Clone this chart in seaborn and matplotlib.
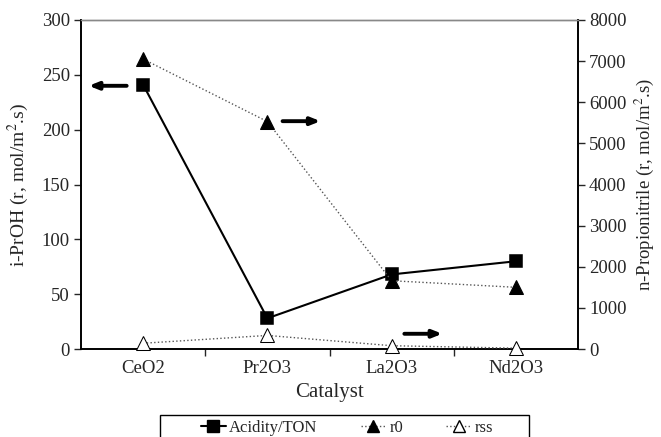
import matplotlib
matplotlib.use("Agg")
import matplotlib.pyplot as plt
import seaborn as sns
import pandas as pd
from matplotlib.lines import Line2D
from matplotlib.patches import Rectangle

catalysts = ["CeO2", "Pr2O3", "La2O3", "Nd2O3"]
acidity_ton = [241, 28, 68, 80]
r0 = [7050, 5530, 1660, 1500]
rss = [140, 330, 80, 20]
left_ticks = [0, 50, 100, 150, 200, 250, 300]
right_ticks = [0, 1000, 2000, 3000, 4000, 5000, 6000, 7000, 8000]

df = pd.DataFrame({"Catalyst": catalysts, "Acidity/TON": acidity_ton, "r0": r0, "rss": rss})

sns.set_theme(style="white")
plt.rcParams["font.family"] = ["Liberation Serif", "DejaVu Serif"]
plt.rcParams["mathtext.fontset"] = "stix"

W, H = 661, 437
fig = plt.figure(figsize=(W / 100, H / 100), dpi=100)
ax = fig.add_axes([81 / W, 1 - 349 / H, (578 - 81) / W, (349 - 20) / H])
ax2 = ax.twinx()

sns.pointplot(data=df, x="Catalyst", y="Acidity/TON", ax=ax, color="black",
              markers="s", linestyles="-", errorbar=None,
              markersize=9, linewidth=1.5, zorder=5)
sns.pointplot(data=df, x="Catalyst", y="r0", ax=ax2, color="black",
              markers="^", linestyles=":", errorbar=None,
              markersize=10, linewidth=1.0, zorder=4)
sns.pointplot(data=df, x="Catalyst", y="rss", ax=ax2, color="black",
              markers="^", linestyles=":", errorbar=None,
              markersize=10, linewidth=1.0, zorder=4)

for ln in ax2.lines:
    ln.set_color("#555555")
    ln.set_markeredgecolor("black")
    ln.set_clip_on(False)
ax2.lines[0].set_markerfacecolor("black")
ax2.lines[1].set_markerfacecolor("white")
for ln in ax.lines:
    ln.set_clip_on(False)

ax.set_xlim(-0.5, 3.5)
ax2.set_xlim(-0.5, 3.5)
ax.set_ylim(0, 300)
ax2.set_ylim(0, 8000)
ax.set_yticks(left_ticks)
ax2.set_yticks(right_ticks)
ax.set_xticks(range(len(catalysts)))
ax.set_xticklabels(catalysts)
ax.set_xticks([0.5, 1.5, 2.5], minor=True)
ax.tick_params(axis="x", which="major", length=0, labelsize=13.5, pad=8)
ax.tick_params(axis="x", which="minor", length=5, width=1, direction="out", bottom=True)
ax.tick_params(axis="y", length=5, width=1, direction="out", labelsize=13.5, left=True, pad=3)
ax2.tick_params(axis="y", length=5, width=1, direction="out", labelsize=13.5, right=True, pad=3)

ax.set_xlabel("Catalyst", fontsize=15, labelpad=4)
ax.set_ylabel("i-PrOH (r, mol/m$^2$.s)", fontsize=14, labelpad=8)
ax2.set_ylabel("n-Propionitrile (r, mol/m$^2$.s)", fontsize=13.5, labelpad=4)

for a in (ax, ax2):
    for s in ["left", "right", "bottom"]:
        a.spines[s].set_color("black")
        a.spines[s].set_linewidth(1.2)
    a.spines["top"].set_color("#888888")
    a.spines["top"].set_linewidth(1.0)
    a.grid(False)

arrow_kw = dict(arrowstyle="-|>,head_length=0.45,head_width=0.18", color="black", lw=2.8)
ax.annotate("", xy=(-0.46, 240), xytext=(-0.11, 240), arrowprops=arrow_kw)
ax.annotate("", xy=(1.45, 5540 * 300 / 8000), xytext=(1.1, 5540 * 300 / 8000), arrowprops=arrow_kw)
ax.annotate("", xy=(2.43, 370 * 300 / 8000), xytext=(2.08, 370 * 300 / 8000), arrowprops=arrow_kw)

handles = [
    Line2D([], [], color="black", lw=1.5, marker="s", markersize=8),
    Line2D([], [], color="#555555", lw=1.0, ls=":", marker="^", markersize=8,
           markerfacecolor="black", markeredgecolor="black"),
    Line2D([], [], color="#555555", lw=1.0, ls=":", marker="^", markersize=8,
           markerfacecolor="white", markeredgecolor="black"),
]
top = 1 - 415 / H
leg = fig.legend(handles, ["Acidity/TON", "r0", "rss"], ncol=3,
                 loc="upper center", bbox_to_anchor=(347 / W, top),
                 frameon=False, fontsize=12,
                 handlelength=1.5, handletextpad=0.2, borderpad=0.3, columnspacing=2.6,
                 borderaxespad=0)
fig.patches.append(Rectangle((160 / W, 1 - 447 / H), (529 - 160) / W, 32 / H,
                             transform=fig.transFigure, fill=False, edgecolor="black",
                             linewidth=1.0, clip_on=False))

fig.savefig("out.png", dpi=100)
